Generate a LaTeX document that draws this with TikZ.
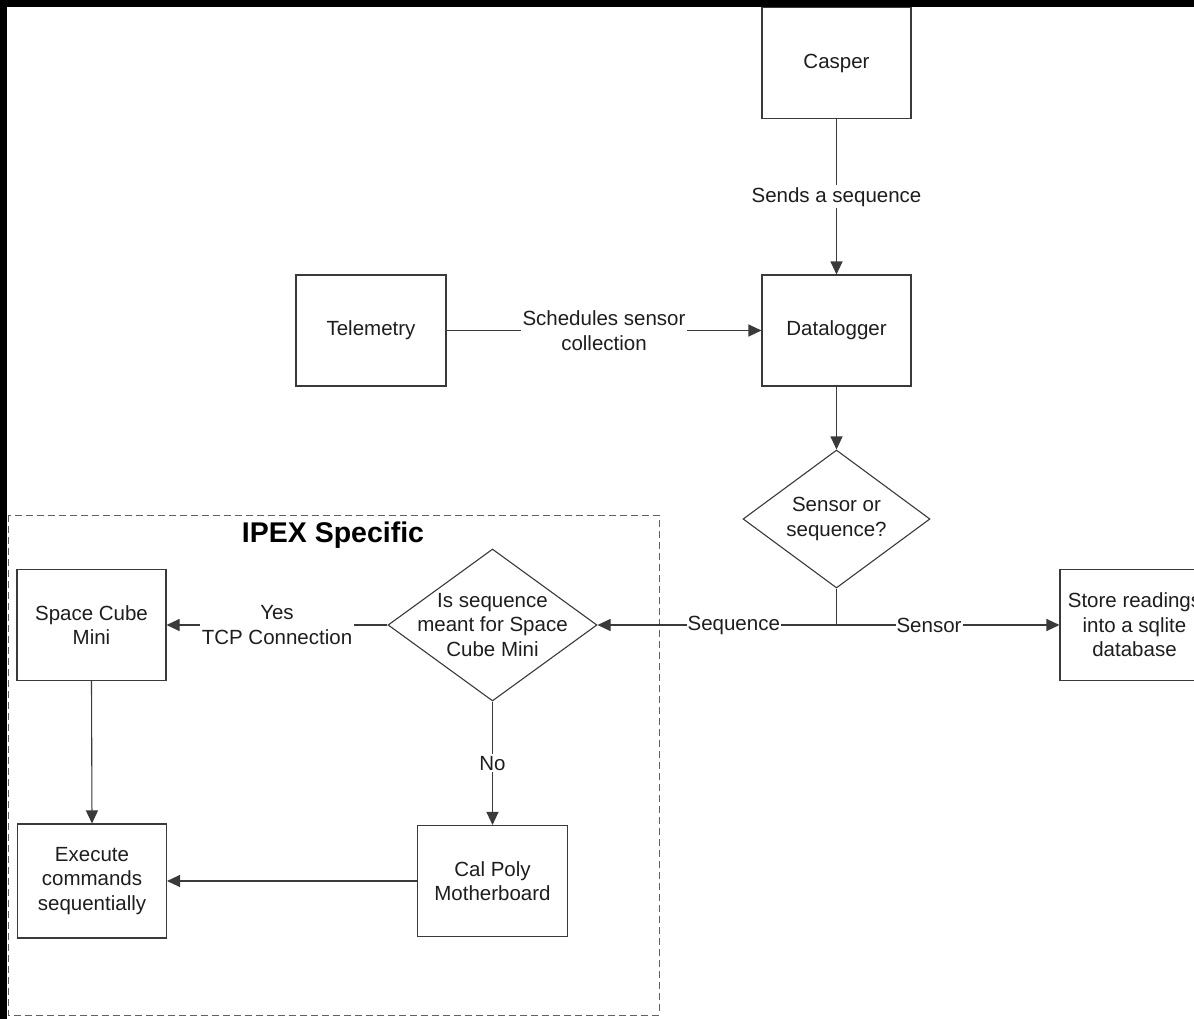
\documentclass[tikz,border=0pt]{standalone}
\usepackage{fontspec}
\setmainfont{Liberation Sans}
\usetikzlibrary{shapes.geometric,arrows.meta}
\definecolor{linec}{HTML}{3A3A3A}
\definecolor{textc}{HTML}{1E1E1E}
\begin{document}
\begin{tikzpicture}[x=1pt,y=-1pt,
  font=\fontsize{20.5}{24.5}\selectfont, text=textc,
  box/.style={draw=linec, line width=1.1pt, rectangle, minimum width=149pt, minimum height=111pt, inner sep=0pt, align=center},
  decision/.style={draw=linec, line width=1.1pt, diamond, inner sep=0pt},
  conn/.style={draw=linec, line width=1.1pt},
  arr/.style={conn, -{Triangle[length=13pt,width=12pt]}},
  lbl/.style={fill=white, inner sep=2pt, align=center}
]
\useasboundingbox (0,0) rectangle (1194,1019);
\fill[black] (0,0) rectangle (1194,1019);
\fill[white] (7,7) rectangle (1194,1019);

% group frame
\draw[draw=linec!80, line width=1pt, dash pattern=on 7pt off 4pt] (8,515) rectangle (659,1015);
\node[font=\fontsize{28.5}{32}\selectfont\bfseries, text=black] (ipextitle) at (333,535) {IPEX Specific};

% nodes
\node[box] (casper) at (836.5,63) {Casper};
\node[box] (datalogger) at (836.5,330.5) {Datalogger};
\node[box, minimum width=150pt] (telemetry) at (371,330.5) {Telemetry};
\node[decision, minimum width=187pt, minimum height=138pt, aspect=1.355,
      label={[align=center]center:Sensor or\\sequence?}] (sensq) at (836.5,519) {};
\node[box] (store) at (1134.5,625) {Store readings\\into a sqlite\\database};
\node[decision, minimum width=209pt, minimum height=152pt, aspect=1.375,
      label={[align=center]center:Is sequence\\meant for Space\\Cube Mini}] (ipexd) at (492.5,625) {};
\node[box] (spacecube) at (91.5,625) {Space Cube\\Mini};
\node[box, minimum height=114pt] (execute) at (92,881) {Execute\\commands\\sequentially};
\node[box, minimum width=150pt] (calpoly) at (492.5,881) {Cal Poly\\Motherboard};
\coordinate (junction) at (836.5,625);

% connectors
\draw[arr] (casper.south) -- node[lbl] {Sends a sequence} (datalogger.north);
\draw[arr] (telemetry.east) -- node[lbl] {Schedules sensor\\collection} (datalogger.west);
\draw[arr] (datalogger.south) -- (sensq.north);
\draw[conn] (sensq.south) -- (junction);
\draw[arr] (junction) -- node[lbl, pos=0.43, inner xsep=1pt] {Sequence} (ipexd.east);
\draw[arr] (junction) -- node[lbl, pos=0.415, inner xsep=1pt] {Sensor} (store.west);
\draw[arr] (ipexd.west) -- node[lbl] {Yes\\TCP Connection} (spacecube.east);
\draw[arr] (ipexd.south) -- node[lbl] {No} (calpoly.north);
\draw[arr] (spacecube.south) -- (execute.north);
\draw[arr] (calpoly.west) -- (execute.east);
\end{tikzpicture}
\end{document}
